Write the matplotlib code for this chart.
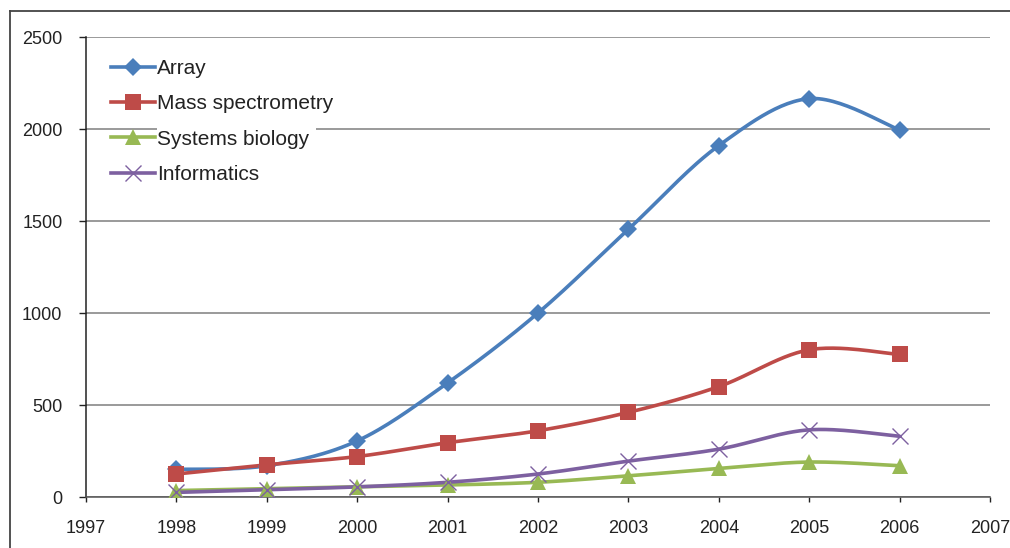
import numpy as np
import matplotlib
matplotlib.use("Agg")
import matplotlib.pyplot as plt
from matplotlib.lines import Line2D
from matplotlib.patches import Rectangle

plt.rcParams['font.family'] = ['Liberation Sans', 'DejaVu Sans']

years = [1998, 1999, 2000, 2001, 2002, 2003, 2004, 2005, 2006]
array_vals = [150, 170, 305, 620, 1000, 1455, 1910, 2165, 1995]
mass_spec = [125, 175, 220, 295, 360, 460, 600, 800, 775]
systems_bio = [35, 45, 55, 65, 80, 115, 155, 190, 170]
informatics = [25, 40, 55, 80, 125, 195, 260, 365, 330]

x_ticks = list(range(1997, 2008))
y_ticks = [0, 500, 1000, 1500, 2000, 2500]

series = [
    ("Array", array_vals, "#4A7EBB", "D", 9),
    ("Mass spectrometry", mass_spec, "#BE4B48", "s", 12),
    ("Systems biology", systems_bio, "#98B954", "^", 11),
    ("Informatics", informatics, "#7D60A0", "x", 12),
]

W, H = 1010, 548
fig = plt.figure(figsize=(W / 100, H / 100), dpi=100)
ax = fig.add_axes([86 / W, 1 - 497 / H, (990 - 86) / W, (497 - 37) / H])
ax.set_xlim(1997, 2007)
ax.set_ylim(0, 2500)


def smooth(xs, ys, n=30):
    """Catmull-Rom curve through the points, built in display space."""
    pts = ax.transData.transform(np.column_stack([xs, ys]))
    p = np.vstack([pts[0], pts, pts[-1]])
    out = []
    for i in range(1, len(p) - 2):
        p0, p1, p2, p3 = p[i - 1], p[i], p[i + 1], p[i + 2]
        c1 = p1 + (p2 - p0) / 6
        c2 = p2 - (p3 - p1) / 6
        t = np.linspace(0, 1, n)[:, None]
        seg = ((1 - t) ** 3) * p1 + 3 * ((1 - t) ** 2) * t * c1 + 3 * (1 - t) * t ** 2 * c2 + t ** 3 * p2
        out.append(seg if i == 1 else seg[1:])
    curve = np.vstack(out)
    return ax.transData.inverted().transform(curve)


handles = []
for name, vals, color, marker, ms in series:
    c = smooth(years, vals)
    ax.plot(c[:, 0], c[:, 1], color=color, lw=2.6, solid_capstyle='round', zorder=3)
    mew = 1.0 if marker == "x" else 0
    ax.plot(years, vals, linestyle='none', marker=marker, ms=ms, mew=mew,
            color=color, zorder=4)
    handles.append((Line2D([], [], color=color, lw=2.6, marker=marker, ms=ms, mew=mew), name))

ax.set_xticks(x_ticks)
ax.set_yticks(y_ticks)
ax.tick_params(axis='both', labelsize=13, colors='#222222', width=1, direction='out')
ax.tick_params(axis='x', length=3.6, pad=13)
ax.tick_params(axis='y', length=5, pad=12)
ax.yaxis.grid(True, color='#7f7f7f', lw=1.1)
ax.set_axisbelow(True)
for side in ('top', 'right'):
    ax.spines[side].set_visible(False)
ax.spines['left'].set_color('#222222')
ax.spines['bottom'].set_color('#555555')
ax.spines['left'].set_linewidth(1.1)
ax.spines['bottom'].set_linewidth(1.1)

# white backing behind the legend labels
ax.add_patch(Rectangle((157 / W, 1 - 190 / H), (316 - 157) / W, (190 - 50) / H,
                       transform=fig.transFigure, facecolor='white', edgecolor='none',
                       zorder=1))

leg = ax.legend([h for h, _ in handles], [n for _, n in handles],
                loc='upper left', bbox_to_anchor=(107 / W, 1 - 55 / H),
                bbox_transform=fig.transFigure, fontsize=15, frameon=False,
                handlelength=2.1, handletextpad=0.1, labelspacing=0.78,
                borderpad=0.2, borderaxespad=0)
for t in leg.get_texts():
    t.set_color('#222222')

# outer chart border
fig.add_artist(Line2D([10 / W, 1.0], [1 - 11 / H, 1 - 11 / H], color='#444444', lw=1.3,
                      transform=fig.transFigure))
fig.add_artist(Line2D([10 / W, 10 / W], [0, 1 - 11 / H], color='#444444', lw=1.3,
                      transform=fig.transFigure))

fig.savefig("out.png", dpi=100, facecolor='white')
